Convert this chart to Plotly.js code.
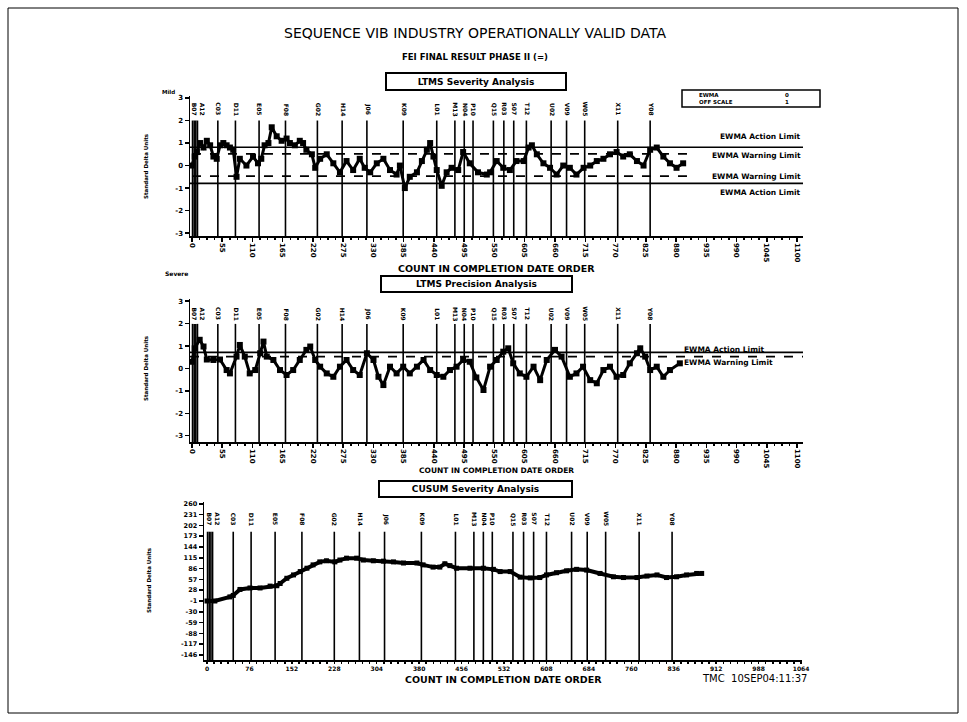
<!DOCTYPE html>
<html><head><meta charset="utf-8">
<script src="https://cdn.plot.ly/plotly-3.0.1.min.js"></script>
<style>html,body{margin:0;padding:0;background:#fff}#chart{width:967px;height:722px}</style>
</head><body><div id="chart"></div>
<script>
// ---------- DATA ----------
const TOP_X = [0,5,9,15,21,27,33,39,45,51,57,63,69,75,81,87,99,111,120,126,132,139,145,154,163,172,178,187,196,202,208,218,224,233,245,257,269,281,293,305,314,324,336,348,360,372,378,387,396,409,418,427,433,439,445,454,463,472,484,493,505,520,536,542,554,566,578,590,603,612,618,627,639,651,663,675,687,699,712,724,736,748,760,772,784,796,809,821,833,845,857,869,881,893];
const TOP_Y = [0.0,0.4,0.6,1.0,0.8,1.1,0.9,0.4,0.3,0.9,1.0,0.9,0.8,0.7,-0.5,0.3,0.0,0.4,0.1,0.3,0.9,1.0,1.7,1.3,1.1,1.2,1.0,0.9,1.1,1.0,0.7,0.5,-0.1,0.3,0.5,0.1,-0.3,0.2,-0.2,0.3,-0.1,-0.3,0.1,0.3,-0.2,-0.4,0.0,-1.0,-0.5,-0.3,0.2,0.7,1.0,0.4,-0.2,-0.9,-0.3,-0.1,-0.2,0.6,0.1,-0.3,-0.4,-0.3,0.2,-0.1,-0.2,0.2,0.2,0.8,0.9,0.5,0.1,-0.1,-0.4,0.0,-0.1,-0.4,-0.1,0.0,0.2,0.3,0.5,0.6,0.4,0.5,0.2,0.0,0.7,0.8,0.4,0.1,-0.1,0.1];

const MID_X = [0,5,14,21,27,39,51,63,69,81,87,96,105,115,124,130,136,148,160,172,184,196,208,215,224,233,245,257,269,281,293,305,318,330,339,348,360,372,384,396,409,421,433,445,457,469,481,493,505,517,530,542,554,566,575,584,596,608,621,633,645,660,672,687,699,711,724,736,748,760,772,784,796,809,815,824,833,845,857,869,887];
const MID_Y = [0.3,0.9,1.28,0.98,0.4,0.38,0.4,-0.07,-0.22,0.53,1.05,0.53,-0.22,-0.07,0.68,1.2,0.53,0.38,-0.07,-0.29,-0.07,0.38,0.83,0.98,0.38,0.08,-0.22,-0.37,0.08,0.38,-0.07,-0.29,0.68,0.38,-0.37,-0.74,0.08,-0.22,0.08,-0.22,0.08,0.38,-0.07,-0.29,-0.37,-0.07,0.08,0.38,0.3,-0.4,-0.96,0.08,0.38,0.75,0.9,0.23,-0.22,-0.37,0.08,-0.52,0.38,0.83,0.53,-0.37,-0.22,0.08,-0.52,-0.66,-0.07,0.08,-0.37,-0.29,0.23,0.68,0.9,0.53,-0.07,0.08,-0.37,-0.07,0.23];

const CUSUM_X = [0,14,41,47,59,77,95,113,125,131,143,155,167,179,190,202,214,229,238,250,268,280,298,316,334,352,376,387,405,417,426,435,447,471,495,513,525,543,561,579,596,608,626,644,662,680,704,728,746,770,788,806,823,841,859,877,886];
const CUSUM_Y = [-1,-1,10,14,30,34,34,39,40,46,60,69,78,87,96,104,107,104,109,114,114,109,107,106,104,101,101,96,90,90,99,94,87,87,87,84,78,78,63,61,62,69,75,80,84,82,73,64,62,62,66,69,62,64,69,73,73];

const REF_X = [1,4,7,10,47,79,122,170,228,273,318,384,445,478,495,511,548,567,585,608,653,681,714,774,833];
const REF_LABELS = ["","","","A12<br>B07","C03","D11","E05","F08","G02","H14","J06","K09","L01","M13","N04","P10","Q15","R03","S07","T12","U02","V09","W05","X11","Y08"];

const SEV_ACTION = [0.81, -0.79];
const SEV_WARNING = [0.52, -0.47];
const PREC_ACTION = [0.72];
const PREC_WARNING = [0.53];

const EWMA_XTICKS = [0,55,110,165,220,275,330,385,440,495,550,605,660,715,770,825,880,935,990,1045,1100];
const CUSUM_XTICKS = [0,76,152,228,304,380,456,532,608,684,760,836,912,988,1064];
const EWMA_YTICKS = [-3,-2,-1,0,1,2,3];
const CUSUM_YTICKS = [-146,-117,-88,-59,-30,-1,28,57,86,115,144,173,202,231,260];

// ---------- LAYOUT HELPERS ----------
const W = 967, H = 722;
const PX = p => p / W;
const PY = p => 1 - p / H;
const FONT = 'DejaVu Sans';
const BLK = '#000';

function ann(text, x, y, size, opts) {
  return Object.assign({
    text: text, x: PX(x), y: PY(y), xref: 'paper', yref: 'paper',
    showarrow: false, xanchor: 'center', yanchor: 'middle',
    font: {family: FONT, size: size, color: BLK, weight: 'bold'}
  }, opts || {});
}

function xAxisCommon(domainPx, range, ticks, anchor, fs, tl) {
  return {
    domain: [PX(domainPx[0]), PX(domainPx[1])], range: range, anchor: anchor,
    tickmode: 'array', tickvals: ticks, ticktext: ticks.map(String),
    ticks: 'outside', ticklen: tl, tickwidth: 1.5, tickcolor: BLK,
    showline: true, linewidth: 1.5, linecolor: BLK,
    showgrid: false, zeroline: false,
    tickfont: {family: FONT, size: fs, color: BLK, weight: 'bold'}
  };
}
function yAxisCommon(domainPx, range, ticks, anchor, fs) {
  return {
    domain: [PY(domainPx[1]), PY(domainPx[0])], range: range, anchor: anchor,
    tickmode: 'array', tickvals: ticks, ticktext: ticks.map(String),
    ticks: 'outside', ticklen: 4, tickwidth: 1.5, tickcolor: BLK,
    showline: true, linewidth: 1.5, linecolor: BLK,
    showgrid: false, zeroline: false,
    tickfont: {family: FONT, size: fs, color: BLK, weight: 'bold'}
  };
}

const minorTop = {tickmode: 'linear', tick0: 0, dtick: 13.75, ticks: 'outside', ticklen: 2, tickwidth: 1.5, tickcolor: BLK};
const xa1 = xAxisCommon([190, 803], [-3.6, 1110.9], EWMA_XTICKS, 'y', 7, 4);
xa1.tickangle = 90; xa1.minor = minorTop;
const xa2 = xAxisCommon([190, 803], [-3.6, 1110.9], EWMA_XTICKS, 'y2', 7, 4);
xa2.tickangle = 90; xa2.minor = minorTop;
const xa3 = xAxisCommon([204, 802], [-5.37, 1065.7], CUSUM_XTICKS, 'y3', 6, 2);
xa3.minor = {tickmode: 'linear', tick0: 0, dtick: 76 / 6, ticks: 'outside', ticklen: 2, tickwidth: 1.5, tickcolor: BLK};

const ya1 = yAxisCommon([96, 236], [-3.13, 3.09], EWMA_YTICKS, 'x', 7);
const ya2 = yAxisCommon([299, 442], [-3.28, 3.10], EWMA_YTICKS, 'x2', 7);
const ya3 = yAxisCommon([502, 660], [-159.4, 264.8], CUSUM_YTICKS, 'x3', 6.5);

// ---------- TRACES ----------
const data = [
  {x: TOP_X, y: TOP_Y, xaxis: 'x', yaxis: 'y', type: 'scatter', mode: 'lines+markers',
   line: {color: BLK, width: 3}, marker: {symbol: 'square', size: 6, color: BLK}, hoverinfo: 'skip'},
  {x: MID_X, y: MID_Y, xaxis: 'x2', yaxis: 'y2', type: 'scatter', mode: 'lines+markers',
   line: {color: BLK, width: 3}, marker: {symbol: 'square', size: 6, color: BLK}, hoverinfo: 'skip'},
  {x: CUSUM_X, y: CUSUM_Y, xaxis: 'x3', yaxis: 'y3', type: 'scatter', mode: 'lines+markers',
   line: {color: BLK, width: 4}, marker: {symbol: 'square', size: 5, color: BLK}, hoverinfo: 'skip'}
];

// ---------- SHAPES ----------
const shapes = [];
shapes.push({type: 'rect', xref: 'paper', yref: 'paper', x0: PX(8), x1: PX(958), y0: PY(713), y1: PY(8), line: {color: BLK, width: 1}});
const panels = [
  {xr: 'x', yr: 'y', top: 2.0, bot: -3.13, labY: 2.5},
  {xr: 'x2', yr: 'y2', top: 1.99, bot: -3.28, labY: 2.43},
  {xr: 'x3', yr: 'y3', top: 185, bot: -159.4, labY: 219}
];
panels.forEach(p => {
  REF_X.forEach(rx => {
    shapes.push({type: 'line', xref: p.xr, yref: p.yr, x0: rx, x1: rx, y0: p.bot, y1: p.top, line: {color: BLK, width: 1.6}});
  });
});
SEV_ACTION.forEach(v => shapes.push({type: 'line', xref: 'x domain', yref: 'y', x0: 0, x1: 1, y0: v, y1: v, line: {color: BLK, width: 1.6}}));
SEV_WARNING.forEach(v => shapes.push({type: 'line', xref: 'x', yref: 'y', x0: 0, x1: 909, y0: v, y1: v, line: {color: BLK, width: 1.6, dash: 'dash'}}));
PREC_ACTION.forEach(v => shapes.push({type: 'line', xref: 'x2 domain', yref: 'y2', x0: 0, x1: 1, y0: v, y1: v, line: {color: BLK, width: 1.6}}));
PREC_WARNING.forEach(v => shapes.push({type: 'line', xref: 'x2 domain', yref: 'y2', x0: 0, x1: 1, y0: v, y1: v, line: {color: BLK, width: 1.6, dash: 'dash'}}));
shapes.push({type: 'rect', xref: 'paper', yref: 'paper', x0: PX(682), x1: PX(820), y0: PY(107), y1: PY(90), line: {color: BLK, width: 1.5}});

// ---------- ANNOTATIONS ----------
const annotations = [];
annotations.push(ann('SEQUENCE VIB INDUSTRY OPERATIONALLY VALID DATA', 475, 33, 14, {font: {family: FONT, size: 14, color: BLK}}));
annotations.push(ann('FEI FINAL RESULT PHASE II (=)', 475, 57, 8.5));
const boxOpts = {bordercolor: BLK, borderwidth: 2, borderpad: 1};
annotations.push(ann('LTMS Severity Analysis', 476, 81, 9, Object.assign({width: 176, height: 13}, boxOpts)));
annotations.push(ann('LTMS Precision Analysis', 476.5, 284.5, 9, Object.assign({width: 187, height: 12}, boxOpts)));
annotations.push(ann('CUSUM Severity Analysis', 475.5, 488.5, 9, Object.assign({width: 189, height: 12}, boxOpts)));
annotations.push(ann('COUNT IN COMPLETION DATE ORDER', 496, 268, 9.5));
annotations.push(ann('COUNT IN COMPLETION DATE ORDER', 496, 470, 7.5));
annotations.push(ann('COUNT IN COMPLETION DATE ORDER', 503, 679, 9.5));
annotations.push(ann('TMC  10SEP04:11:37', 754, 678, 10, {font: {family: FONT, size: 10, color: BLK}}));
annotations.push(ann('Mild', 168, 92, 5.5));
annotations.push(ann('Severe', 176, 273, 6));
annotations.push(ann('Standard Delta Units', 146, 166, 5.5, {textangle: -90}));
annotations.push(ann('Standard Delta Units', 146, 368, 5.5, {textangle: -90}));
annotations.push(ann('Standard Delta Units', 149, 580, 5.5, {textangle: -90}));
annotations.push(ann('EWMA', 697, 94.5, 5.5, {xanchor: 'left'}));
annotations.push(ann('OFF SCALE', 697, 102, 5.5, {xanchor: 'left'}));
annotations.push(ann('0', 783, 94.5, 5.5, {xanchor: 'left'}));
annotations.push(ann('1', 783, 102, 5.5, {xanchor: 'left'}));
const limFont = {family: FONT, size: 7.5, color: BLK, weight: 'bold'};
annotations.push({text: 'EWMA Action Limit', xref: 'paper', yref: 'y', x: PX(803), y: 1.3, xanchor: 'right', yanchor: 'middle', showarrow: false, font: limFont});
annotations.push({text: 'EWMA Warning Limit', xref: 'paper', yref: 'y', x: PX(803), y: 0.45, xanchor: 'right', yanchor: 'middle', showarrow: false, font: limFont});
annotations.push({text: 'EWMA Warning Limit', xref: 'paper', yref: 'y', x: PX(803), y: -0.5, xanchor: 'right', yanchor: 'middle', showarrow: false, font: limFont});
annotations.push({text: 'EWMA Action Limit', xref: 'paper', yref: 'y', x: PX(803), y: -1.19, xanchor: 'right', yanchor: 'middle', showarrow: false, font: limFont});
annotations.push({text: 'EWMA Action Limit', xref: 'paper', yref: 'y2', x: PX(682), y: 0.86, xanchor: 'left', yanchor: 'middle', showarrow: false, font: limFont});
annotations.push({text: 'EWMA Warning Limit', xref: 'paper', yref: 'y2', x: PX(682), y: 0.26, xanchor: 'left', yanchor: 'middle', showarrow: false, font: limFont});
panels.forEach(p => {
  REF_X.forEach((rx, i) => {
    if (!REF_LABELS[i]) return;
    annotations.push({text: REF_LABELS[i], xref: p.xr, yref: p.yr, x: rx + 2, y: p.labY, textangle: 90,
      xanchor: 'center', yanchor: 'middle', showarrow: false,
      font: {family: FONT, size: 6, color: BLK, weight: 'bold'}});
  });
});

const layout = {
  width: W, height: H, margin: {l: 0, r: 0, t: 0, b: 0},
  paper_bgcolor: '#fff', plot_bgcolor: '#fff', showlegend: false,
  xaxis: xa1, yaxis: ya1, xaxis2: xa2, yaxis2: ya2, xaxis3: xa3, yaxis3: ya3,
  shapes: shapes, annotations: annotations
};

Plotly.newPlot('chart', data, layout, {staticPlot: true, displayModeBar: false});
</script>
</body></html>
